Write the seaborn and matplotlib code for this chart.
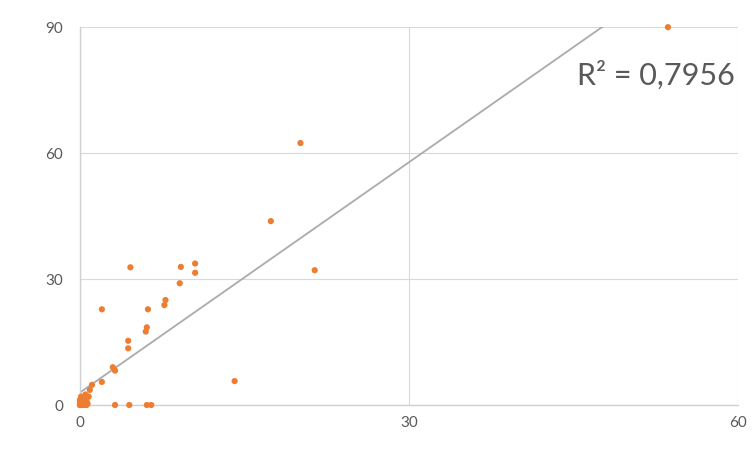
import matplotlib
matplotlib.use("Agg")
import matplotlib.pyplot as plt
import seaborn as sns
import pandas as pd
import numpy as np

# values (the blob at the origin holds many overlapping points)
x_vals = [53.6, 20.1, 17.4, 21.4, 14.1,
          4.6, 9.2, 10.5, 10.5, 9.1, 7.8, 7.7, 2.0, 6.2, 6.1, 6.0,
          4.4, 4.4, 3.0, 3.2, 2.0, 1.1, 0.9,
          3.2, 4.5, 6.1, 6.5,
          0.0, 0.2, 0.3, 0.5, 0.8, 0.4, 0.7, 0.1, 0.6, 0.0,
          0.0, 0.1, 0.2, 0.3, 0.5, 0.0, 0.4, 0.2, 0.1, 0.6]
y_vals = [90.0, 62.4, 43.8, 32.1, 5.7,
          32.8, 32.9, 33.7, 31.5, 29.0, 25.0, 23.8, 22.8, 22.8, 18.5, 17.5,
          15.3, 13.5, 9.0, 8.2, 5.5, 4.8, 3.6,
          0.0, 0.0, 0.0, 0.0,
          0.0, 0.5, 1.5, 2.5, 2.0, 0.0, 0.3, 2.0, 1.0, 1.2,
          0.0, 0.0, 0.3, 0.0, 0.2, 0.6, 1.0, 1.4, 0.8, 0.0]
x_ticks = [0, 30, 60]
y_ticks = [0, 30, 60, 90]
r2_label = "R² = 0,7956"

df = pd.DataFrame({"x": x_vals, "y": y_vals})

sns.set_style("white")
plt.rcParams['font.family'] = ['Lato', 'DejaVu Sans']

fig = plt.figure(figsize=(7.54, 4.58), dpi=100)
ax = fig.add_axes([0.106, 0.1157, 0.873, 0.825])
ax.set_xlim(0, 60)
ax.set_ylim(0, 90)

# linear trend line across the whole x range
sns.regplot(data=df, x="x", y="y", ax=ax, ci=None, truncate=False, scatter=False,
            line_kws={"color": "#ABABAB", "linewidth": 1.3, "zorder": 2})
sns.scatterplot(data=df, x="x", y="y", ax=ax, color="#ED7D31", s=20,
                edgecolor="none", zorder=3, clip_on=False)

ax.set_xlim(0, 60)
ax.set_ylim(0, 90)
ax.set_xticks(x_ticks)
ax.set_yticks(y_ticks)
ax.set_xlabel("")
ax.set_ylabel("")
ax.grid(True, color="#D9D9D9", lw=0.8)
ax.set_axisbelow(True)
for side in ["top", "right"]:
    ax.spines[side].set_visible(False)
for side in ["left", "bottom"]:
    ax.spines[side].set_color("#D0D0D0")
    ax.spines[side].set_linewidth(1.0)
ax.tick_params(axis="both", length=0, labelsize=11, labelcolor="#595959")
ax.tick_params(axis="y", pad=12)
ax.tick_params(axis="x", pad=8)

ax.text(0.995, 0.873, r2_label, transform=ax.transAxes, ha="right", va="center",
        fontsize=22, color="#595959")

fig.savefig("out.png", dpi=100)
